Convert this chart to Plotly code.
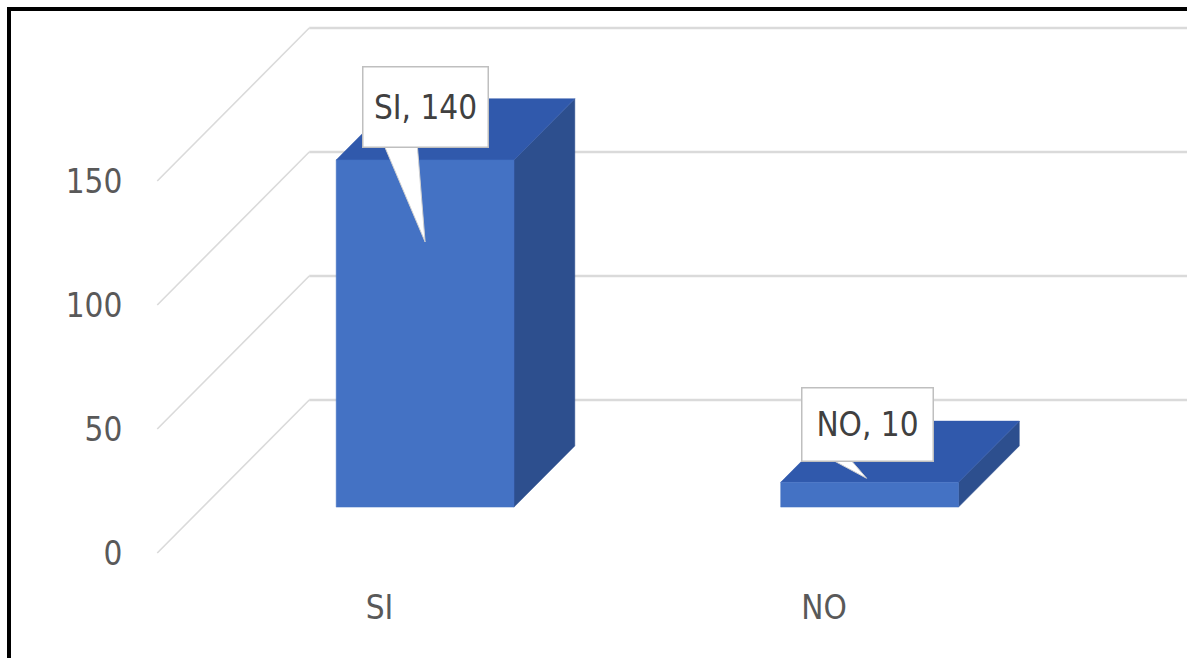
import plotly.graph_objects as go

# ---------------- data ----------------
categories = ["SI", "NO"]
values = [140, 10]
y_ticks = [0, 50, 100, 150]
label_texts = [f"{c}, {v}" for c, v in zip(categories, values)]

# ---------------- geometry / style ----------------
W, H = 1187, 658
ML, MR, MT, MB = 150, 0, 0, 88
X_PX = 444.5      # px per category step
Y_PX = 2.48       # px per value unit
X0_PX = 379.5     # px position of category 0 on the front plane
Y0_PX = 553.0     # px position of value 0 on the front plane
DX = 152 / X_PX   # floor depth, in x units
DY = 153 / Y_PX   # floor depth, in value units
F, B = 0.3, 0.7   # bar front/back depth fractions
HW = 0.2          # half bar width (category units)

x_range = [(ML - X0_PX) / X_PX, (W - MR - X0_PX) / X_PX]
y_range = [-(H - MB - Y0_PX) / Y_PX, (Y0_PX - MT) / Y_PX]

FONT = "Liberation Sans Narrow, Arial Narrow, DejaVu Sans Condensed, sans-serif"
FSIZE = 33
GRID = "#DADADA"
FRONT_C = "#4472C4"
TOP_C = "#3059AC"
SIDE_C = "#2D4F8E"

fig = go.Figure()

# gridlines: side wall diagonals + back wall horizontals
x_left, x_right = -0.5, len(categories) - 0.5
for t in y_ticks:
    fig.add_trace(go.Scatter(x=[x_left, x_left + DX], y=[t, t + DY], mode="lines",
                             line=dict(color=GRID, width=1.6), hoverinfo="skip"))
    fig.add_trace(go.Scatter(x=[x_left + DX, x_right + DX], y=[t + DY, t + DY], mode="lines",
                             line=dict(color=GRID, width=2.6), hoverinfo="skip"))

# 3D bars
def poly(xs, ys, color):
    fig.add_trace(go.Scatter(x=xs + [xs[0]], y=ys + [ys[0]], mode="lines", fill="toself",
                             fillcolor=color, line=dict(color=color, width=0.5),
                             hoverinfo="skip"))

for i, v in enumerate(values):
    xl_f, xr_f = i - HW + F * DX, i + HW + F * DX
    xl_b, xr_b = i - HW + B * DX, i + HW + B * DX
    yb_f, yb_b = F * DY, B * DY
    poly([xr_f, xr_b, xr_b, xr_f], [yb_f, yb_b, yb_b + v, yb_f + v], SIDE_C)   # side
    poly([xl_f, xr_f, xr_b, xl_b], [yb_f + v, yb_f + v, yb_b + v, yb_b + v], TOP_C)  # top
    poly([xl_f, xr_f, xr_f, xl_f], [yb_f, yb_f, yb_f + v, yb_f + v], FRONT_C)  # front

# callouts (pixel offsets are style)
tip_off = [(0, 82), (-3, -4)]          # tip offset from bar front-top centre (px, down +)
box_off = [(0, -134.5), (1, -54)]      # box centre offset from tip (px)
box_size = [(124, 79), (130, 72)]
tail_base = [(-42, -8), (-41, -19)]    # tail base x offsets from tip (px)

for i, v in enumerate(values):
    cx = i + F * DX
    cy = F * DY + v
    tx = cx + tip_off[i][0] / X_PX
    ty = cy - tip_off[i][1] / Y_PX
    bw, bh = box_size[i]
    bottom_px = box_off[i][1] + bh / 2 - 4
    bx0 = tx + tail_base[i][0] / X_PX
    bx1 = tx + tail_base[i][1] / X_PX
    by = ty - bottom_px / Y_PX
    fig.add_trace(go.Scatter(x=[bx0, tx, bx1, bx0], y=[by, ty, by, by], mode="lines",
                             fill="toself", fillcolor="white",
                             line=dict(color="#D0D0D0", width=1), hoverinfo="skip"))
    fig.add_annotation(x=tx, y=ty, xref="x", yref="y", text=label_texts[i],
                       showarrow=True, arrowcolor="rgba(0,0,0,0)", arrowwidth=0.1,
                       ax=box_off[i][0], ay=box_off[i][1],
                       width=bw, height=bh, borderpad=0,
                       bgcolor="white", bordercolor="#BFBFBF", borderwidth=1.5,
                       font=dict(family=FONT, size=FSIZE, color="#404040"))

# frame border (top and left edges visible)
pw, ph = W - ML - MR, H - MT - MB
def px_x(p): return (p - ML) / pw
def px_y(p): return 1 - (p - MT) / ph
fig.add_shape(type="line", xref="paper", yref="paper", x0=px_x(7), x1=px_x(W + 20),
              y0=px_y(9), y1=px_y(9), line=dict(color="black", width=4))
fig.add_shape(type="line", xref="paper", yref="paper", x0=px_x(9), x1=px_x(9),
              y0=px_y(7), y1=px_y(H + 20), line=dict(color="black", width=4))

fig.update_layout(
    width=W, height=H, margin=dict(l=ML, r=MR, t=MT, b=MB),
    paper_bgcolor="white", plot_bgcolor="white", showlegend=False,
    xaxis=dict(range=x_range, tickvals=list(range(len(categories))), ticktext=categories,
               showgrid=False, zeroline=False, showline=False, ticks="outside",
               ticklen=8, tickcolor="rgba(0,0,0,0)", fixedrange=True,
               tickfont=dict(family=FONT, size=FSIZE, color="#595959")),
    yaxis=dict(range=y_range, tickvals=y_ticks, showgrid=False, zeroline=False,
               showline=False, ticks="outside", ticklen=20, tickcolor="rgba(0,0,0,0)",
               fixedrange=True, tickfont=dict(family=FONT, size=FSIZE, color="#595959")),
)

fig.write_html("out.html", config={"displayModeBar": False},
               post_script="document.body.style.margin='0';document.body.style.overflow='hidden';")
